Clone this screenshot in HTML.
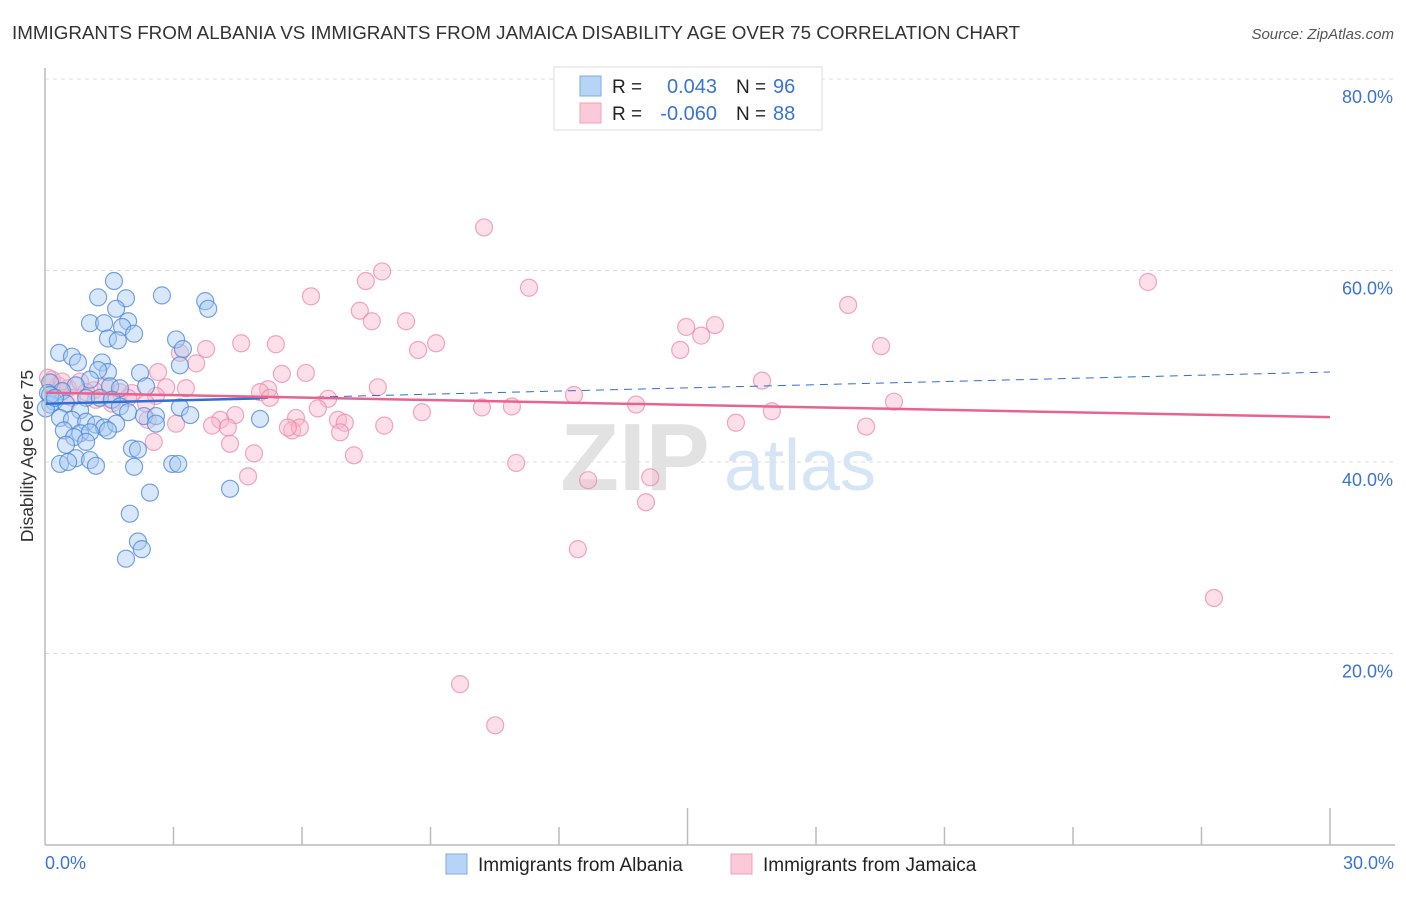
<!DOCTYPE html>
<html><head><meta charset="utf-8"><style>
body{margin:0;background:#fff;font-family:"Liberation Sans",sans-serif}
svg text{font-family:"Liberation Sans",sans-serif}
</style></head><body>
<svg id="chart" width="1406" height="892" xmlns="http://www.w3.org/2000/svg">
<text x="12" y="39" font-size="18.8" fill="#333">IMMIGRANTS FROM ALBANIA VS IMMIGRANTS FROM JAMAICA DISABILITY AGE OVER 75 CORRELATION CHART</text>
<text x="1394" y="39" font-size="15" fill="#555" text-anchor="end" font-style="italic">Source: ZipAtlas.com</text>
<text transform="translate(33,456) rotate(-90)" font-size="17.5" fill="#333" text-anchor="middle">Disability Age Over 75</text>
<g id="grid"></g>
<g>
<text x="635" y="490" font-size="96" fill="#e2e2e2" font-family="Liberation Serif" text-anchor="middle" font-weight="bold">ZIP</text>
<text x="800" y="490" font-size="72" fill="#d6e5f6" text-anchor="middle">atlas</text>
</g>
<g id="pts"></g>
<g id="trend"></g>
<line x1="45" y1="68" x2="45" y2="845" stroke="#bbb" stroke-width="1.5"/>
<line x1="45" y1="845" x2="1395" y2="845" stroke="#bbb" stroke-width="1.5"/>
<g id="xticks"></g>
<text x="45" y="869" font-size="18" fill="#3b73d4">0.0%</text>
<text x="1394" y="869" font-size="18" fill="#3b73d4" text-anchor="end">30.0%</text>
<g>
<rect x="554" y="67" width="268" height="63" fill="#fff" stroke="#ddd"/>
<rect x="580" y="76" width="21" height="20" fill="#b7d3f5" stroke="#7eaee8"/>
<rect x="580" y="103" width="21" height="20" fill="#fbcad8" stroke="#f0a0b8"/>
<text x="612" y="93" font-size="19" fill="#222">R =</text>
<text x="717" y="93" font-size="20" fill="#3b73d4" text-anchor="end">0.043</text>
<text x="736" y="93" font-size="19" fill="#222">N =</text><text x="773" y="93" font-size="20" fill="#3b73d4">96</text>
<text x="612" y="120" font-size="19" fill="#222">R =</text>
<text x="717" y="120" font-size="20" fill="#3b73d4" text-anchor="end">-0.060</text>
<text x="736" y="120" font-size="19" fill="#222">N =</text><text x="773" y="120" font-size="20" fill="#3b73d4">88</text>
</g>
<g>
<rect x="446" y="854" width="21" height="20" fill="#b7d3f5" stroke="#7eaee8"/>
<text x="478" y="871" font-size="19" fill="#222">Immigrants from Albania</text>
<rect x="731" y="854" width="21" height="20" fill="#fbcad8" stroke="#f0a0b8"/>
<text x="763" y="871" font-size="19" fill="#222">Immigrants from Jamaica</text>
</g>
</svg>
<script>
const blueX=[1.61,1.24,1.89,3.74,2.73,3.81,1.66,1.05,1.38,1.94,1.80,2.08,1.47,1.70,3.06,3.22,0.33,0.63,1.33,0.77,3.15,2.22,1.47,1.24,1.05,0.12,0.72,1.52,2.36,1.75,0.07,0.40,0.96,1.28,1.56,0.21,0.49,0.82,0.12,1.75,1.94,2.31,2.59,3.15,3.39,0.35,0.63,0.96,1.19,1.38,1.66,0.44,0.82,1.05,0.68,0.49,0.96,1.47,2.59,5.02,2.03,2.17,0.72,1.05,0.35,0.54,1.19,2.08,2.97,3.11,2.45,1.98,4.32,2.17,2.26,1.89,0.02,0.12,0.23];
const blueY=[58.9,57.2,57.1,56.8,57.4,56.0,56.0,54.5,54.5,54.7,54.1,53.4,52.9,52.7,52.8,51.8,51.4,51.0,50.4,50.4,50.1,49.3,49.4,49.6,48.6,48.3,48.0,47.9,47.9,47.7,47.2,47.4,46.7,46.7,46.5,46.3,46.1,45.4,46.0,45.8,45.2,44.8,44.8,45.7,44.9,44.6,44.4,44.2,43.9,43.6,44.0,43.3,43.0,43.1,42.6,41.8,42.1,43.3,44.0,44.5,41.4,41.3,40.4,40.2,39.8,40.0,39.6,39.5,39.8,39.8,36.8,34.6,37.2,31.7,30.9,29.9,45.6,47.0,46.7];
const pinkX=[10.25,7.87,7.49,11.30,25.75,6.21,7.35,7.63,8.43,18.75,15.64,14.97,15.32,9.13,8.71,14.83,19.52,4.58,3.76,3.15,5.39,3.53,6.09,5.53,16.74,7.77,12.35,6.61,5.21,5.02,2.83,3.29,1.42,1.14,2.59,1.75,2.03,0.30,0.54,0.82,0.16,19.82,13.80,10.20,10.90,8.80,16.97,5.86,6.37,6.84,7.00,4.44,4.09,3.90,4.27,3.06,2.40,5.77,5.95,5.67,6.89,7.92,16.13,19.17,2.54,4.32,4.88,7.21,11.00,4.74,12.68,14.13,14.03,12.44,27.29,9.69,10.51,0.07,0.40,0.63,0.96,1.19,2.36,1.56,1.94,2.64,5.25];
const pinkY=[64.5,59.9,58.9,58.2,58.8,57.3,55.8,54.7,54.7,56.4,54.3,54.1,53.2,52.4,51.7,51.7,52.1,52.4,51.8,51.4,52.3,50.3,49.3,49.2,48.5,47.8,47.0,46.6,47.6,47.3,47.8,47.7,47.9,47.5,46.9,47.3,47.2,48.0,47.7,48.4,48.6,46.3,46.0,45.7,45.8,45.2,45.3,44.6,45.6,44.4,44.1,44.9,44.4,43.8,43.6,44.0,44.4,43.3,43.6,43.6,43.1,43.8,44.1,43.7,42.1,41.9,40.9,40.7,39.9,38.5,38.1,38.4,35.8,30.9,25.8,16.8,12.5,48.8,48.4,46.7,47.3,46.5,46.1,46.1,46.7,49.4,46.7];
const yTicks=[20,40,60,80];
const NS="http://www.w3.org/2000/svg";
const X0=45,X1=1330,Y0=845,YPER=9.575;
function sx(v){return X0+(X1-X0)*v/30;}
function sy(v){return Y0-v*YPER;}
function mk(t,a,p){const e=document.createElementNS(NS,t);for(const k in a)e.setAttribute(k,a[k]);p.appendChild(e);return e;}
const grid=document.getElementById('grid');
yTicks.forEach(t=>{
  const l=mk('line',{x1:45,x2:1395,y1:sy(t),y2:sy(t),stroke:'#ddd','stroke-dasharray':'4,4'},grid);
  
  
  const tx=mk('text',{x:1393,y:sy(t)+24,'font-size':18,fill:'#3b73d4','text-anchor':'end'},grid);
  tx.textContent=t.toFixed(1)+'%';
  
  
});
const xt=document.getElementById('xticks');
for(let i=1;i<=10;i++){
  const v=i*3;
  const l=mk('line',{x1:sx(v),x2:sx(v),y1:(i==5||i==10)?808:827,y2:845,stroke:'#bbb','stroke-width':1.5},xt);
  
  
}
const pts=document.getElementById('pts');
function draw(xs,ys,fill,stroke,name){
  xs.forEach((x,i)=>{
    const c=mk('circle',{cx:sx(x),cy:sy(ys[i]),r:8.5,fill:fill,'fill-opacity':0.45,stroke:stroke,'stroke-opacity':0.75,'stroke-width':1.2},pts);
    
    
  });
}
draw(pinkX,pinkY,'#f9b8cb','#ee8aa8','point-jamaica');
draw(blueX,blueY,'#a9c9f2','#4a86d8','point-albania');
function reg(xs,ys){const n=xs.length;let mx=0,my=0;xs.forEach((x,i)=>{mx+=x;my+=ys[i];});mx/=n;my/=n;let sxy=0,sxx=0;xs.forEach((x,i)=>{sxy+=(x-mx)*(ys[i]-my);sxx+=(x-mx)**2;});const b=sxy/sxx;return [my-b*mx,b];}
const tr=document.getElementById('trend');
const [ba,bb]=reg(blueX,blueY);
const bmax=Math.max(...blueX);
let l=mk('line',{x1:sx(0),y1:sy(ba),x2:sx(bmax),y2:sy(ba+bb*bmax),stroke:'#2f6fd6','stroke-width':2.5},tr);


l=mk('line',{x1:sx(bmax),y1:sy(ba+bb*bmax),x2:sx(30),y2:sy(ba+bb*30),stroke:'#2f6fd6','stroke-width':1,'stroke-dasharray':'8,6'},tr);


const [pa,pb]=reg(pinkX,pinkY);
l=mk('line',{x1:sx(0),y1:sy(pa),x2:sx(30),y2:sy(pa+pb*30),stroke:'#e8638f','stroke-width':2.5},tr);


</script>
</body></html>
